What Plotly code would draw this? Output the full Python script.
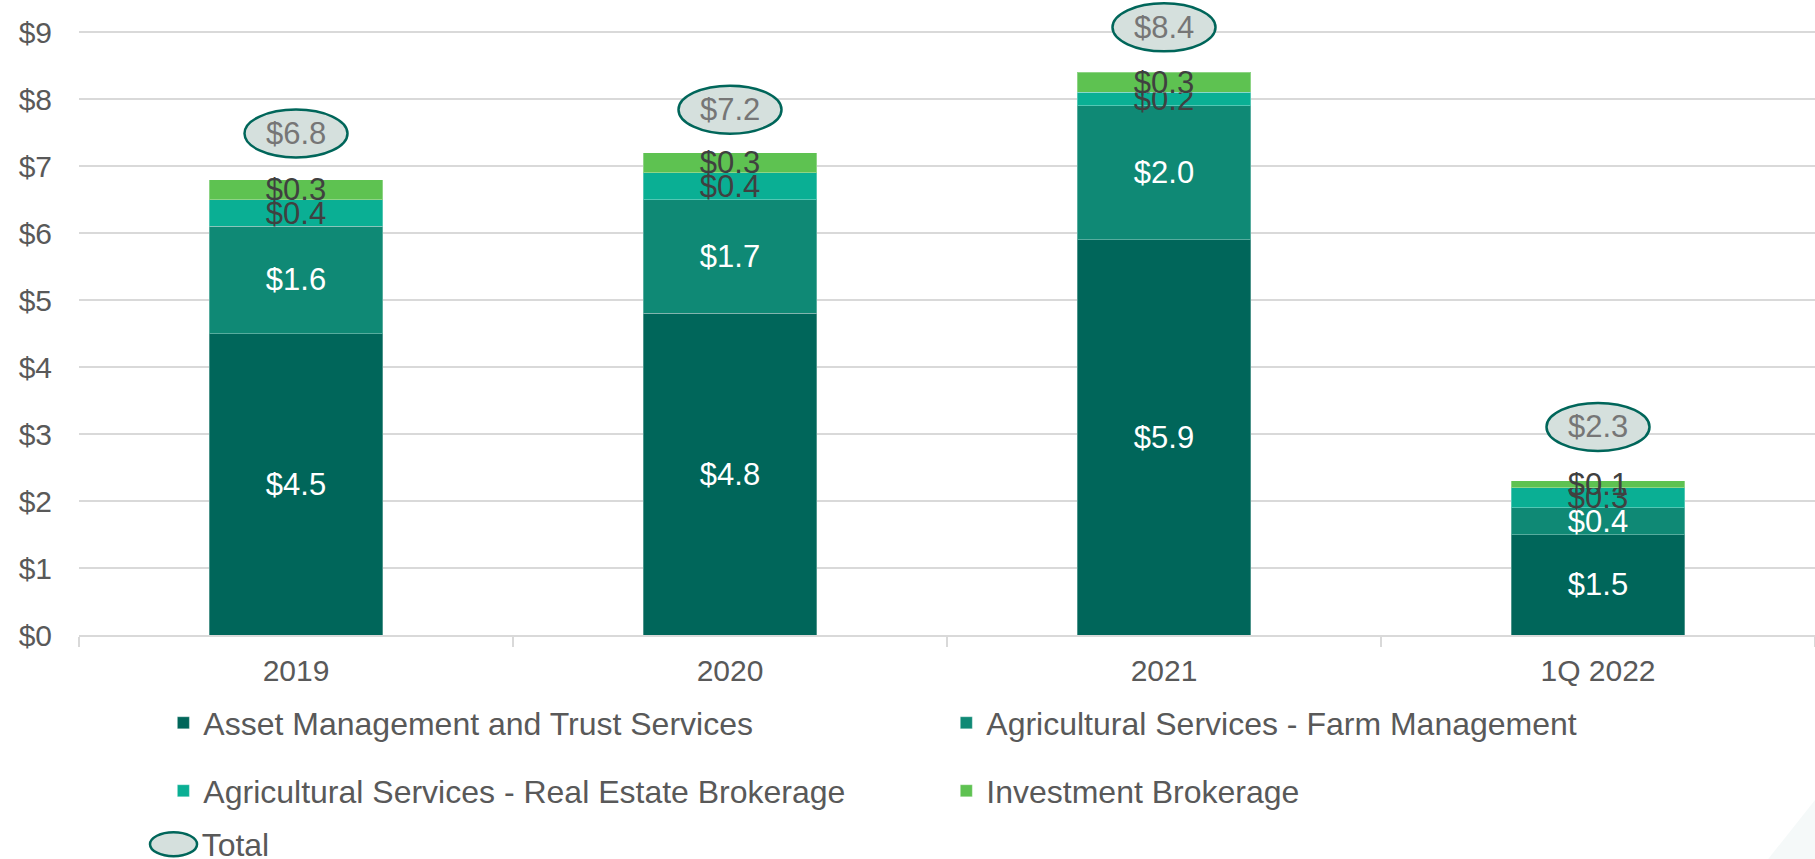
import plotly.graph_objects as go

categories = ["2019", "2020", "2021", "1Q 2022"]
asset_mgmt = [4.5, 4.8, 5.9, 1.5]
farm_mgmt = [1.6, 1.7, 2.0, 0.4]
real_estate = [0.4, 0.4, 0.2, 0.3]
investment = [0.3, 0.3, 0.3, 0.1]
totals = [6.8, 7.2, 8.4, 2.3]

series_names = [
    "Asset Management and Trust Services",
    "Agricultural Services - Farm Management",
    "Agricultural Services - Real Estate Brokerage",
    "Investment Brokerage",
]
series_values = [asset_mgmt, farm_mgmt, real_estate, investment]
series_colors = ["#00665A", "#0F8975", "#0AAF94", "#5EC251"]
label_colors = ["#FFFFFF", "#FFFFFF", "#404040", "#404040"]
legend_ids = ["legend", "legend2", "legend3", "legend4"]

# pixel offsets of the total callouts above each stack (style)
total_offsets = [46, 43, 45, 54]

FONT = "Arial, Liberation Sans, sans-serif"
ELL_FILL = "#D5E0DD"
ELL_LINE = "#00665A"

fig = go.Figure()
for name, vals, col, lc, lg in zip(series_names, series_values, series_colors, label_colors, legend_ids):
    fig.add_trace(go.Bar(
        x=categories, y=vals, name=name,
        marker=dict(color=col, line=dict(color="rgba(255,255,255,0.3)", width=1)),
        texttemplate="$%{y:.1f}", textposition="inside", insidetextanchor="middle",
        textangle=0, textfont=dict(family=FONT, size=31, color=lc),
        legend=lg,
    ))

# legend entry for the totals (its ellipse icon is drawn as a shape below)
fig.add_trace(go.Scatter(
    x=[None], y=[None], mode="markers", name="Total",
    marker=dict(symbol="circle", size=10, color="rgba(0,0,0,0)", line=dict(width=0)),
    legend="legend5",
))

shapes = []
annotations = []
for i, (tot, off) in enumerate(zip(totals, total_offsets)):
    shapes.append(dict(
        type="circle", xref="x", yref="y",
        xsizemode="pixel", ysizemode="pixel",
        xanchor=i, yanchor=tot,
        x0=-51.5, x1=51.5, y0=off - 24, y1=off + 24,
        fillcolor=ELL_FILL, line=dict(color=ELL_LINE, width=2.5),
        layer="above",
    ))
    annotations.append(dict(
        x=i, y=tot, xref="x", yref="y", text=f"${tot:.1f}",
        showarrow=False, yshift=off, xanchor="center", yanchor="middle",
        font=dict(family=FONT, size=31, color="#767676"),
    ))

# ellipse icon of the "Total" legend entry
shapes.append(dict(
    type="circle", xref="paper", yref="paper",
    x0=0.0409, x1=0.0680, y0=-0.3495, y1=-0.3116,
    fillcolor=ELL_FILL, line=dict(color=ELL_LINE, width=2.5),
))

# faint decorative corner
shapes.append(dict(
    type="path", xref="paper", yref="paper",
    path="M 0.973 -0.354 L 1.0 -0.2607 L 1.0 -0.354 Z",
    fillcolor="#F5F9F9", line=dict(width=0), layer="below",
))

leg_common = dict(xanchor="left", yanchor="middle", bgcolor="rgba(0,0,0,0)",
                  font=dict(family=FONT, size=32, color="#595959"), itemwidth=30)

fig.update_layout(
    width=1815, height=859,
    margin=dict(l=79, r=0, t=2, b=224, autoexpand=False),
    paper_bgcolor="white", plot_bgcolor="white",
    barmode="stack", bargap=0.6,
    uniformtext=dict(minsize=31, mode="show"),
    font=dict(family=FONT, color="#595959"),
    legend=dict(x=0.0486, y=-0.139, **leg_common),
    legend2=dict(x=0.4996, y=-0.139, **leg_common),
    legend3=dict(x=0.0486, y=-0.2464, **leg_common),
    legend4=dict(x=0.4996, y=-0.2464, **leg_common),
    legend5=dict(x=0.0476, y=-0.3295, **leg_common),
    shapes=shapes, annotations=annotations,
    xaxis=dict(
        type="category", range=[-0.5, 3.5], tickson="boundaries",
        ticks="outside", ticklen=10, tickcolor="#D9D9D9", tickwidth=1.5,
        showline=True, linecolor="#D9D9D9", linewidth=1.5, showgrid=False,
        tickfont=dict(family=FONT, size=30, color="#595959"),
        ticklabelstandoff=8, automargin=False,
    ),
    yaxis=dict(
        range=[0, 9.45], dtick=1, tickprefix="$", tickformat="d",
        showgrid=True, gridcolor="#D9D9D9", gridwidth=1.5, zeroline=False,
        tickfont=dict(family=FONT, size=30, color="#595959"),
        ticklabelstandoff=26, automargin=False,
    ),
    showlegend=True,
)

fig.write_html("out.html", config={"displayModeBar": False},
               post_script="document.body.style.margin='0';")
